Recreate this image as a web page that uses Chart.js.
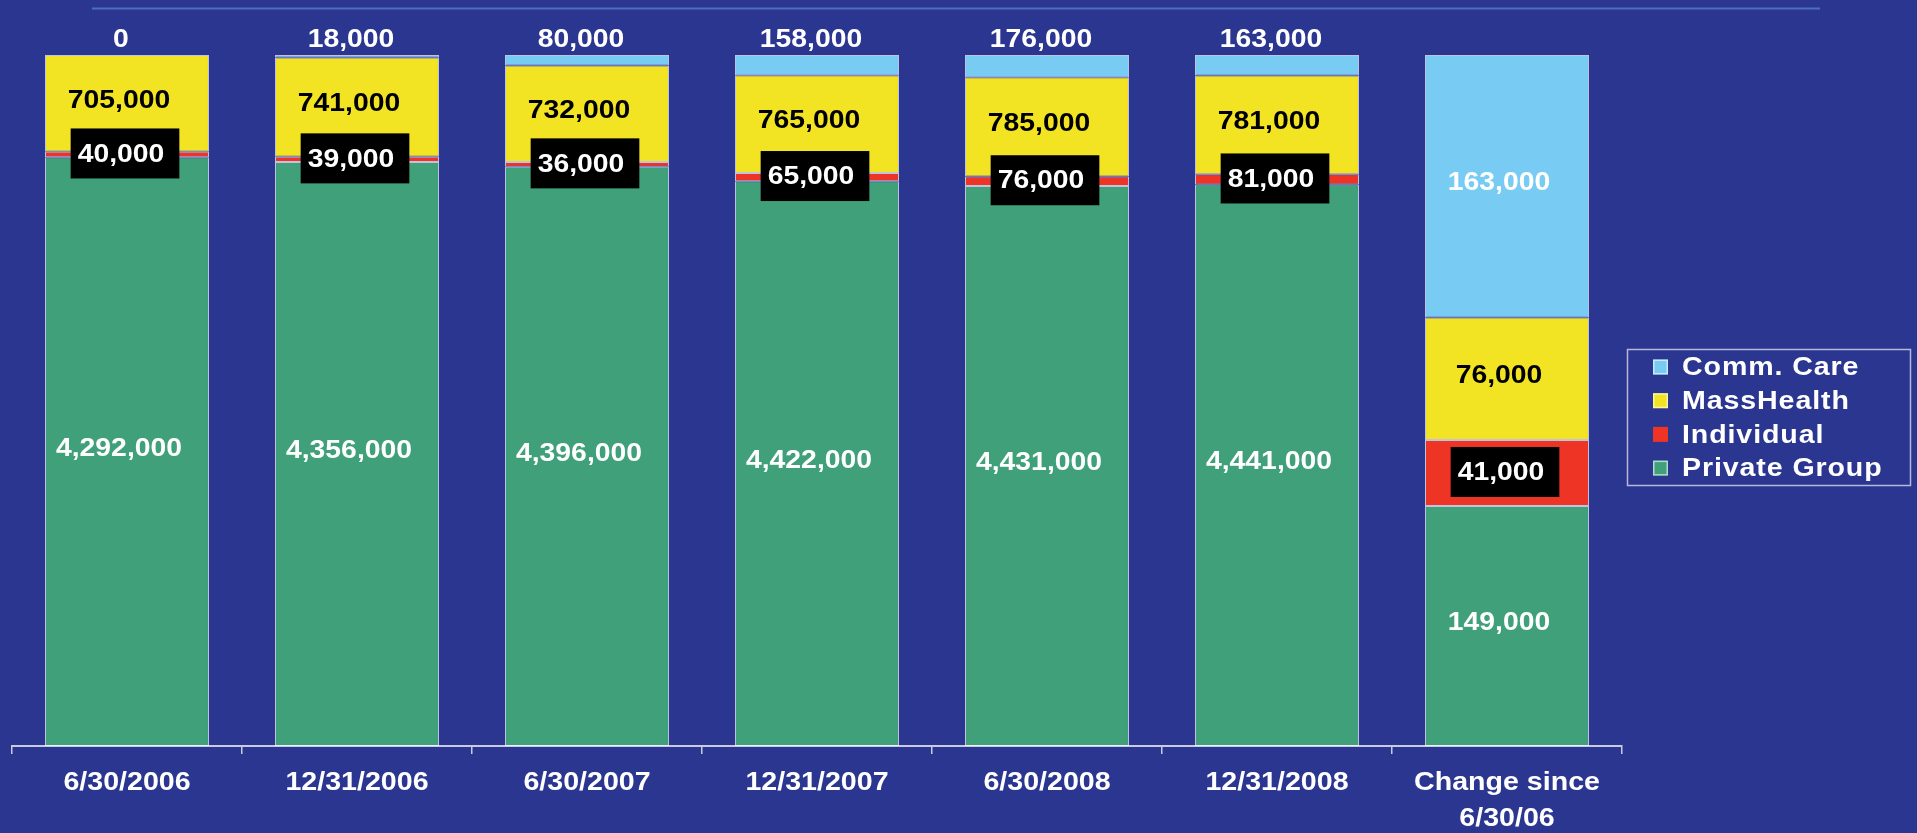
<!DOCTYPE html>
<html>
<head>
<meta charset="utf-8">
<script src="https://cdn.jsdelivr.net/npm/chart.js@4"></script>
<style>
  html, body { margin: 0; padding: 0; background: #2b3691; }
  #wrap { width: 1917px; height: 833px; }
</style>
</head>
<body>
<div id="wrap"><canvas id="coverageChart"></canvas></div>
<script>
const categories = ['6/30/2006', '12/31/2006', '6/30/2007', '12/31/2007', '6/30/2008', '12/31/2008', ['Change since', '6/30/06']];
const seriesNames = ['Private Group', 'Individual', 'MassHealth', 'Comm. Care'];
const privateGroup = [4292000, 4356000, 4396000, 4422000, 4431000, 4441000, 149000];
const individual = [40000, 39000, 36000, 65000, 76000, 81000, 41000];
const massHealth = [705000, 741000, 732000, 765000, 785000, 781000, 76000];
const commCare = [0, 18000, 80000, 158000, 176000, 163000, 163000];

const series = [privateGroup, individual, massHealth, commCare];
const colors = ['#3fa07a', '#ee3424', '#f2e323', '#78ccf3'];
const labelStyles = ['white', 'boxed', 'black', 'white'];
const BG = '#2b3691';
const FONT = "'Liberation Sans', Arial, sans-serif";

// every column is drawn as 100% of its own total
const totals = categories.map((c, i) => series.reduce((acc, s) => acc + s[i], 0));

const fmt = v => v.toLocaleString('en-US');

// the original lettering is a bit wide, so stretch it sideways
function wideText(ctx, text, x, y, sx) {
    ctx.save();
    ctx.translate(x, y);
    ctx.scale(sx, 1);
    ctx.fillText(text, 0, 0);
    ctx.restore();
}

const decorations = {
    id: 'decorations',
    beforeDraw(chart) {
        const ctx = chart.ctx;
        ctx.save();
        ctx.fillStyle = BG;
        ctx.fillRect(0, 0, chart.width, chart.height);
        ctx.strokeStyle = '#4c6fc6';
        ctx.lineWidth = 2;
        ctx.beginPath();
        ctx.moveTo(92, 8.5);
        ctx.lineTo(1820, 8.5);
        ctx.stroke();
        ctx.restore();
    },
    afterDatasetsDraw(chart) {
        const ctx = chart.ctx;
        const sx = 1.09;
        ctx.save();
        ctx.font = `bold 26px ${FONT}`;
        ctx.textBaseline = 'middle';
        series.forEach((values, d) => {
            const meta = chart.getDatasetMeta(d);
            meta.data.forEach((bar, i) => {
                const text = fmt(values[i]);
                const h = bar.base - bar.y;
                const mid = (bar.y + bar.base) / 2;
                if (labelStyles[d] === 'boxed') {
                    const tw = ctx.measureText(text).width * sx;
                    const w = tw + 22;
                    const left = bar.x - 2 - w / 2;
                    ctx.fillStyle = '#000';
                    ctx.fillRect(left, mid - 1 - 25, w, 50);
                    ctx.fillStyle = '#fff';
                    ctx.textAlign = 'left';
                    wideText(ctx, text, left + 7, mid, sx);
                    return;
                }
                ctx.textAlign = 'center';
                ctx.fillStyle = labelStyles[d] === 'black' ? '#000' : '#fff';
                if (h < 40) {
                    // small segment: label sits above the column
                    wideText(ctx, text, bar.x - 6, chart.chartArea.top - 15, sx);
                } else {
                    wideText(ctx, text, bar.x - 8, mid - 3, sx);
                }
            });
        });
        ctx.restore();
    },
    afterDraw(chart) {
        const ctx = chart.ctx;
        ctx.save();

        // category labels under the axis
        const xScale = chart.scales.x;
        ctx.font = `bold 26px ${FONT}`;
        ctx.fillStyle = '#fff';
        ctx.textAlign = 'center';
        ctx.textBaseline = 'middle';
        chart.data.labels.forEach((lab, i) => {
            const lines = Array.isArray(lab) ? lab : [lab];
            const px = xScale.getPixelForTick(i);
            lines.forEach((line, j) => {
                wideText(ctx, line, px, 783 + j * 36, 1.1);
            });
        });

        // legend box
        ctx.strokeStyle = 'rgba(255,255,255,0.65)';
        ctx.lineWidth = 1.5;
        ctx.strokeRect(1627.5, 349.5, 283, 136);
        ctx.font = `bold 26px ${FONT}`;
        ctx.textAlign = 'left';
        ctx.letterSpacing = '0.8px';
        const order = chart.data.datasets.map((ds, i) => i).reverse();
        order.forEach((d, k) => {
            const ds = chart.data.datasets[d];
            const yc = 367 + k * 33.7;
            ctx.fillStyle = ds.backgroundColor;
            ctx.fillRect(1653, yc - 7.5, 15, 15);
            if (d !== 1) {
                ctx.strokeStyle = 'rgba(255,255,255,0.6)';
                ctx.lineWidth = 1.5;
                ctx.strokeRect(1653.75, yc - 6.75, 13.5, 13.5);
            }
            ctx.fillStyle = '#fff';
            wideText(ctx, ds.label, 1682, yc + 1, 1.1);
        });
        ctx.restore();
    }
};

const ctx = document.getElementById('coverageChart').getContext('2d');

new Chart(ctx, {
    type: 'bar',
    data: {
        labels: categories,
        datasets: series.map((values, d) => ({
            label: seriesNames[d],
            data: values.map((v, i) => v / totals[i] * 100),
            backgroundColor: colors[d],
            borderColor: 'rgba(255,255,255,0.7)',
            borderWidth: 1,
            borderSkipped: false,
            barPercentage: 0.713,
            categoryPercentage: 1.0
        }))
    },
    options: {
        responsive: true,
        maintainAspectRatio: false,
        animation: false,
        layout: { padding: { left: 12, right: 295, top: 55, bottom: 0 } },
        plugins: {
            legend: { display: false },
            tooltip: { enabled: false }
        },
        scales: {
            x: {
                stacked: true,
                grid: {
                    offset: true,
                    drawOnChartArea: false,
                    drawTicks: true,
                    tickLength: 8,
                    color: '#c8cbe0',
                    lineWidth: 1.5
                },
                border: { color: '#c8cbe0', width: 2 },
                ticks: { display: false },
                afterFit(scale) { scale.height = 87; }
            },
            y: {
                stacked: true,
                display: false,
                min: 0,
                max: 100
            }
        }
    },
    plugins: [decorations]
});
</script>
</body>
</html>
